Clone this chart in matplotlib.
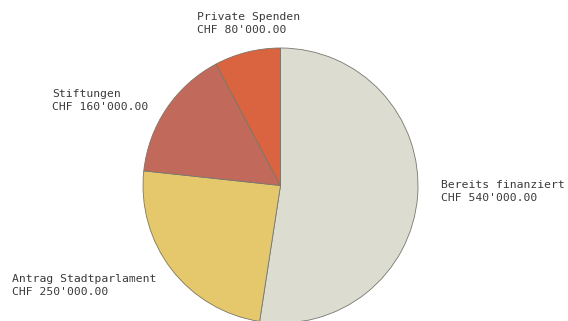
import matplotlib.pyplot as plt

labels = ['Bereits finanziert', 'Antrag Stadtparlament', 'Stiftungen', 'Private Spenden']
values = [540000, 250000, 160000, 80000]
colors = ['#dcddd0', '#e5c86c', '#c16a5c', '#da6440']
# label anchor (left, top) in pixels from top-left
label_pos = [(441, 180), (12, 274), (52, 89), (197, 12)]

W, H = 568, 321
fig = plt.figure(figsize=(W / 100, H / 100), dpi=100)
ax = fig.add_axes([0, 0, 1, 1])
ax.set_xlim(0, W)
ax.set_ylim(0, H)
ax.set_aspect('equal')

ax.pie(values, colors=colors, startangle=90, counterclock=False,
       center=(280.5, H - 185.5), radius=137.5, frame=True,
       wedgeprops=dict(edgecolor='#77776c', linewidth=0.6))
ax.axis('off')

for lab, v, (x, y) in zip(labels, values, label_pos):
    amount = f"{v:,.2f}".replace(',', "'")
    ax.text(x, H - y, f"{lab}\nCHF {amount}", ha='left', va='top',
            family='DejaVu Sans Mono', fontsize=8.2, color='#3a3a3a',
            linespacing=1.4)

fig.savefig('out.png', dpi=100, facecolor='white')
